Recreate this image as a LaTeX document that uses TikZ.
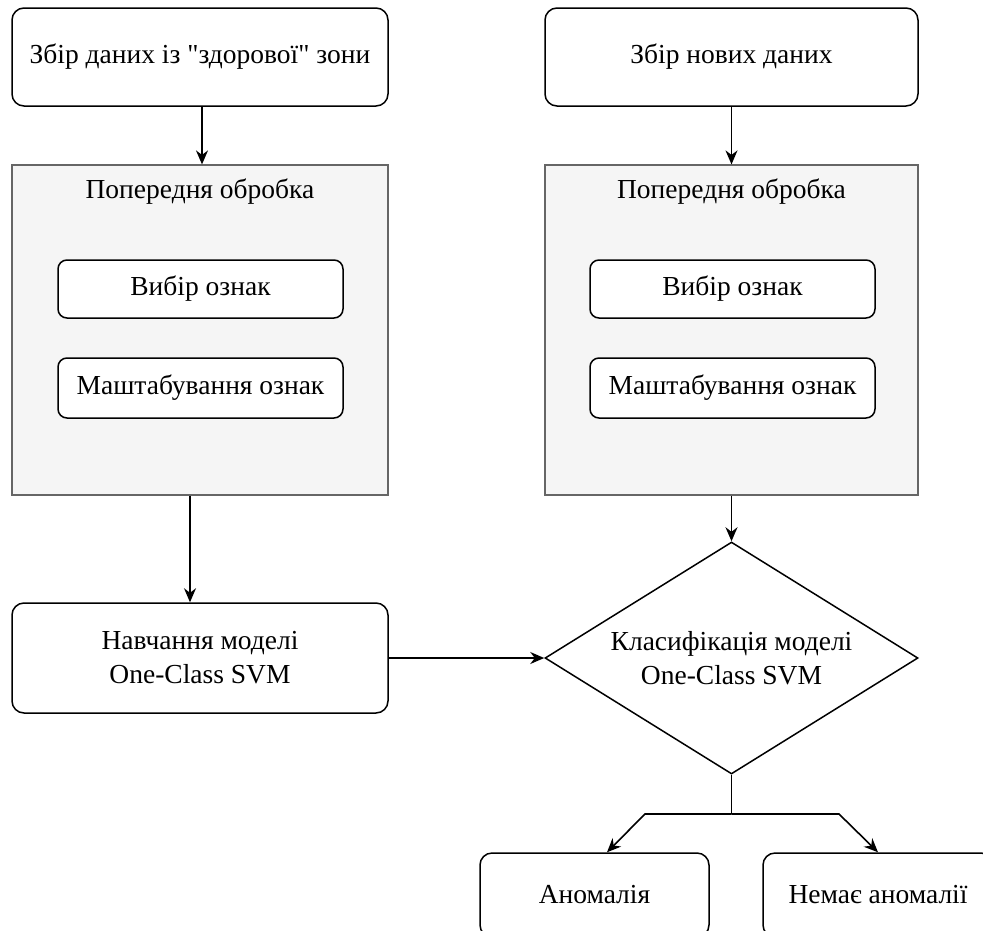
\documentclass[tikz,border=0pt]{standalone}
\usepackage{fontspec}
\setmainfont{Liberation Serif}
\usepackage{tikz}
\usetikzlibrary{shapes.geometric, arrows.meta, positioning}
\definecolor{panelgray}{HTML}{F5F5F5}
\definecolor{paneldraw}{HTML}{666666}
\tikzset{
  block/.style={rectangle, draw=black, fill=white, rounded corners=12pt,
                line width=1.5pt, align=center, inner sep=0pt,
                font=\fontsize{27.5}{34}\selectfont},
  panel/.style={rectangle, draw=paneldraw, fill=panelgray, line width=1.2pt,
                inner sep=0pt},
  subblock/.style={rectangle, draw=black, fill=white, rounded corners=9pt,
                   line width=1.5pt, align=center, inner sep=0pt,
                   minimum width=285pt, font=\fontsize{27.5}{34}\selectfont},
  decision/.style={diamond, draw=black, fill=white, line width=1.5pt,
                   aspect=1.6, inner sep=0pt, align=center,
                   minimum width=373pt, minimum height=232pt,
                   font=\fontsize{27.5}{34}\selectfont},
  arrow/.style={-{Stealth[length=14pt, width=12pt]}, draw=black, line width=1.6pt},
  title/.style={font=\fontsize{27.5}{34}\selectfont, inner sep=0pt},
}
\begin{document}
\begin{tikzpicture}[x=1pt, y=-1pt]
  \useasboundingbox (0,0) rectangle (983,930);
  \clip (0,0) rectangle (983,930);

  \node[block, minimum width=376pt, minimum height=98pt] (collectL) at (200,57)
    {Збір даних із \textquotedbl здорової\textquotedbl{} зони};
  \node[block, minimum width=373pt, minimum height=98pt] (collectR) at (731.5,57)
    {Збір нових даних};

  \node[panel, minimum width=376pt, minimum height=330pt] (prepL) at (200,330) {};
  \node[panel, minimum width=373pt, minimum height=330pt] (prepR) at (731.5,330) {};
  \node[title] (prepLtitle) at (200,192) {Попередня обробка};
  \node[title] (prepRtitle) at (731.5,192) {Попередня обробка};

  \node[subblock, minimum height=58pt] (selL) at (200.5,289) {Вибір ознак};
  \node[subblock, minimum height=60pt] (scaleL) at (200.5,388) {Маштабування ознак};
  \node[subblock, minimum height=58pt] (selR) at (732.5,289) {Вибір ознак};
  \node[subblock, minimum height=60pt] (scaleR) at (732.5,388) {Маштабування ознак};

  \node[block, minimum width=376pt, minimum height=110pt] (train) at (200,658)
    {Навчання моделі\\ One-Class SVM};
  \node[decision] (classify) at (731.5,658)
    {Класифікація моделі\\One-Class SVM};

  \node[block, minimum width=229pt, minimum height=84pt] (anomaly) at (594.5,895)
    {Аномалія};
  \node[block, minimum width=230pt, minimum height=84pt] (normal) at (878,895)
    {Немає аномалії};

  \coordinate (split) at (731.5,814);
  \coordinate (splitL) at (645,814);
  \coordinate (splitR) at (839,814);

  \draw[arrow] (collectL.south -| 202,0) -- (prepL.north -| 202,0);
  \draw[arrow] (collectR) -- (prepR);
  \draw[arrow] (prepL.south -| 190,0) -- (train.north -| 190,0);
  \draw[arrow] (prepR) -- (classify);
  \draw[arrow] (train) -- (classify);
  \draw[line width=1.6pt] (classify.south) -- (split);
  \draw[arrow] (split) -- (splitL) -- ([xshift=12.5pt]anomaly.north);
  \draw[arrow] (split) -- (splitR) -- (normal.north);
\end{tikzpicture}
\end{document}
